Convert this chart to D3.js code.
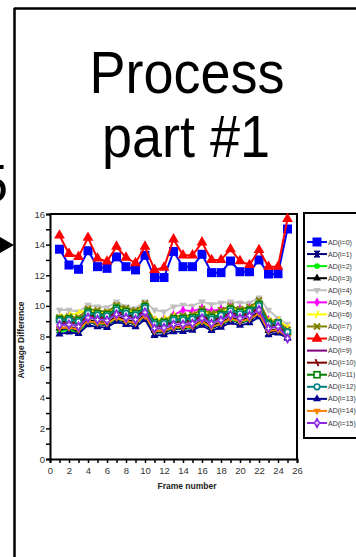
<!DOCTYPE html>
<html>
<head>
<meta charset="utf-8">
<script src="https://cdn.jsdelivr.net/npm/d3@7"></script>
<style>
  body { margin: 0; background: #fff; }
  svg { display: block; font-family: "Liberation Sans", Arial, sans-serif; }
</style>
</head>
<body>
<div id="chart"></div>
<script>
// Data
var frames = [1,2,3,4,5,6,7,8,9,10,11,12,13,14,15,16,17,18,19,20,21,22,23,24,25];
var yTicks = [0,2,4,6,8,10,12,14,16];
var xTicks = [0,2,4,6,8,10,12,14,16,18,20,22,24,26];

var ad0  = [13.7,12.67,12.39,13.6,12.56,12.45,13.2,12.56,12.35,13.3,11.85,11.85,13.55,12.56,12.56,13.37,12.17,12.17,12.93,12.23,12.23,13.0,12.08,12.1,15.02];
var ad1  = [8.42,8.50,8.33,8.95,8.78,8.74,9.12,8.93,8.80,9.27,8.22,8.28,8.47,8.49,8.55,8.88,8.52,8.77,9.08,8.90,9.05,9.46,8.25,8.36,7.95];
var ad2  = [8.35,8.40,8.25,8.98,8.85,8.80,9.18,8.97,8.86,9.30,8.30,8.35,8.55,8.52,8.60,8.92,8.60,8.82,9.12,8.95,9.10,9.55,8.40,8.45,8.05];
var ad3  = [8.55,8.62,8.48,9.08,8.95,8.90,9.30,9.08,8.95,9.42,8.40,8.42,8.62,8.64,8.70,9.03,8.70,8.92,9.24,9.05,9.22,9.60,8.38,8.48,7.92];
var ad4  = [9.73,9.73,9.62,10.06,9.95,9.9,10.27,9.95,9.84,10.27,9.73,9.62,9.95,10.06,10.0,10.27,10.1,10.2,10.27,10.2,10.2,10.54,9.73,9.19,8.8];
var ad5  = [9.20,9.25,9.10,9.62,9.50,9.45,9.82,9.62,9.52,9.90,9.05,9.10,9.40,9.72,9.65,9.85,9.68,9.78,9.92,9.80,9.88,10.20,9.10,9.00,8.45];
var ad6  = [9.30,9.40,9.55,9.75,9.62,9.55,9.95,9.72,9.60,10.05,9.10,9.15,9.35,9.30,9.40,9.70,9.45,9.62,9.90,9.70,9.85,10.25,9.05,9.10,8.60];
var ad7  = [9.25,9.30,9.25,9.80,9.70,9.60,10.05,9.85,9.70,10.15,9.00,9.05,9.30,9.35,9.40,9.80,9.50,9.72,9.98,9.78,9.92,10.35,9.00,8.95,8.45];
var ad8  = [14.6,13.4,13.2,14.45,13.1,12.9,13.87,13.15,12.8,13.87,12.35,12.5,14.35,13.3,13.3,14.15,13.0,13.0,13.7,12.93,12.67,13.65,12.56,12.56,15.68];
var ad9  = [8.85,8.90,8.78,9.35,9.22,9.15,9.55,9.35,9.22,9.68,8.65,8.68,8.90,8.92,8.98,9.30,8.98,9.18,9.50,9.30,9.46,9.82,8.65,8.75,8.10];
var ad10 = [8.95,9.00,8.88,9.45,9.30,9.25,9.65,9.45,9.32,9.78,8.75,8.78,9.00,9.02,9.08,9.40,9.08,9.28,9.60,9.40,9.56,9.92,8.75,8.82,8.20];
var ad11 = [9.12,9.15,9.05,9.60,9.48,9.42,9.85,9.62,9.48,9.95,8.90,8.92,9.15,9.18,9.22,9.58,9.25,9.45,9.78,9.58,9.72,10.10,8.85,8.88,8.25];
var ad12 = [9.05,9.08,8.98,9.52,9.40,9.35,9.75,9.52,9.40,9.88,8.82,8.85,9.08,9.10,9.15,9.50,9.15,9.38,9.68,9.48,9.65,10.02,8.80,8.90,8.30];
var ad13 = [8.15,8.28,8.18,8.75,8.62,8.58,8.98,8.78,8.62,9.10,8.05,8.10,8.30,8.32,8.40,8.72,8.38,8.60,8.92,8.72,8.88,9.28,8.10,8.22,7.90];
var ad14 = [8.55,8.58,8.45,9.02,8.88,8.85,9.22,9.00,8.88,9.35,8.35,8.38,8.58,8.60,8.65,8.98,8.62,8.85,9.18,8.98,9.15,9.50,8.35,8.42,7.95];
var ad15 = [8.75,8.78,8.65,9.23,9.10,9.05,9.45,9.23,9.10,9.58,8.53,8.56,8.78,8.78,8.84,9.19,8.84,9.06,9.40,9.19,9.36,9.73,8.53,8.65,7.88];

var seriesNames = ["AD(i=0)","AD(i=1)","AD(i=2)","AD(i=3)","AD(i=4)","AD(i=5)","AD(i=6)","AD(i=7)",
                   "AD(i=8)","AD(i=9)","AD(i=10)","AD(i=11)","AD(i=12)","AD(i=13)","AD(i=14)","AD(i=15)"];
var seriesValues = [ad0,ad1,ad2,ad3,ad4,ad5,ad6,ad7,ad8,ad9,ad10,ad11,ad12,ad13,ad14,ad15];

// styles
var colors = ["#0000ff","#000080","#00ee00","#000000","#c0c0c0","#ff00ff","#ffff00","#808000",
              "#ff0000","#800080","#800000","#008000","#008080","#000090","#ff8000","#8a2be2"];
var markers = ["square","hourglass","circle","triangle","down","diamond","slash","x",
               "triangle","none","backslash","opensquare","opencircle","triangle","down","diamondplus"];

var svgWidth = 356, svgHeight = 557;

var svg = d3.select("#chart")
  .append("svg")
  .attr("width", svgWidth)
  .attr("height", svgHeight);

// slide frame
svg.append("line").attr("x1", 14.5).attr("x2", 14.5).attr("y1", 8).attr("y2", svgHeight)
  .attr("stroke", "#000").attr("stroke-width", 2.5);
svg.append("line").attr("x1", 14).attr("x2", svgWidth).attr("y1", 8.5).attr("y2", 8.5)
  .attr("stroke", "#000").attr("stroke-width", 2.5);

svg.append("text").attr("x", 8).attr("y", 202).attr("text-anchor", "end")
  .attr("font-size", 54).text("5");
svg.append("path").attr("d", "M0,237L14,245L0,253Z").attr("fill", "#000");

// title (slightly stretched vertically like the slide)
svg.append("text").attr("transform", "translate(187,93) scale(1,1.1)").attr("text-anchor", "middle")
  .attr("font-size", 54).text("Process");
svg.append("text").attr("transform", "translate(186,157) scale(1,1.1)").attr("text-anchor", "middle")
  .attr("font-size", 54).text("part #1");

// scales
var x = d3.scaleLinear().domain([0, 26]).range([50, 297]);
var y = d3.scaleLinear().domain([0, 16]).range([459, 214]);

var chartGroup = svg.append("g");

// frame top/right
chartGroup.append("line").attr("x1", 50).attr("x2", 297).attr("y1", 214).attr("y2", 214)
  .attr("stroke", "#000").attr("stroke-width", 2);
chartGroup.append("line").attr("x1", 297).attr("x2", 297).attr("y1", 213).attr("y2", 459)
  .attr("stroke", "#000").attr("stroke-width", 2);

// axes
var yAxis = d3.axisLeft(y).tickValues(d3.range(0, 17)).tickSize(4)
  .tickFormat(d => yTicks.indexOf(d) >= 0 ? d : "");
var xAxis = d3.axisBottom(x).tickValues(d3.range(0, 27)).tickSize(4)
  .tickFormat(d => xTicks.indexOf(d) >= 0 ? d : "");

var gy = chartGroup.append("g").attr("transform", "translate(50,0)").call(yAxis);
var gx = chartGroup.append("g").attr("transform", "translate(0,459)").call(xAxis);

[gx, gy].forEach(function(g) {
  g.select(".domain").attr("stroke", "#000").attr("stroke-width", 2);
  g.selectAll(".tick line").attr("stroke", "#000").attr("stroke-width", 1.5);
  g.selectAll(".tick text").attr("fill", "#333").attr("font-size", 9.5)
    .attr("font-family", "'Liberation Sans', Arial, sans-serif");
});
gy.selectAll(".tick text").attr("x", -5);
gx.selectAll(".tick text").attr("y", 8);

chartGroup.append("text")
  .attr("transform", "translate(24,340) rotate(-90)")
  .attr("text-anchor", "middle")
  .attr("font-size", 8.5).attr("font-weight", "bold").attr("fill", "#222")
  .text("Average Difference");

chartGroup.append("text")
  .attr("x", 187).attr("y", 489)
  .attr("text-anchor", "middle")
  .attr("font-size", 8.5).attr("font-weight", "bold").attr("fill", "#222")
  .text("Frame number");

// marker drawing
function drawMarker(g, type, color, big) {
  var s = big ? 1.35 : 1;
  if (type === "square") {
    g.append("rect").attr("x", -4.5 * s / 1.35).attr("y", -4.5 * s / 1.35)
      .attr("width", 9 * s / 1.35).attr("height", 9 * s / 1.35).attr("fill", color);
  } else if (type === "triangle") {
    g.append("path").attr("d", d3.symbol(d3.symbolTriangle, 28 * s * s)()).attr("fill", color);
  } else if (type === "down") {
    g.append("path").attr("d", d3.symbol(d3.symbolTriangle, 24)()).attr("transform", "rotate(180)").attr("fill", color);
  } else if (type === "circle") {
    g.append("circle").attr("r", 2.8).attr("fill", color);
  } else if (type === "diamond") {
    g.append("path").attr("d", d3.symbol(d3.symbolDiamond, 26)()).attr("fill", color);
  } else if (type === "diamondplus") {
    g.append("path").attr("d", d3.symbol(d3.symbolDiamond, 40)()).attr("fill", color);
    g.append("path").attr("d", "M-1.8,0H1.8M0,-1.8V1.8").attr("stroke", "#fff").attr("stroke-width", 1);
  } else if (type === "hourglass") {
    g.append("path").attr("d", "M-3,-3L3,-3L-3,3L3,3Z").attr("fill", color).attr("stroke", color);
  } else if (type === "x") {
    g.append("path").attr("d", "M-3,-3L3,3M3,-3L-3,3").attr("stroke", color).attr("stroke-width", 2);
  } else if (type === "slash") {
    g.append("path").attr("d", "M-1.5,3.5L1.5,-3.5").attr("stroke", color).attr("stroke-width", 1.8);
  } else if (type === "backslash") {
    g.append("path").attr("d", "M-1.5,-3.5L1.5,3.5").attr("stroke", color).attr("stroke-width", 1.8);
  } else if (type === "opensquare") {
    g.append("rect").attr("x", -3).attr("y", -3).attr("width", 6).attr("height", 6)
      .attr("fill", "#fff").attr("stroke", color).attr("stroke-width", 1.6);
  } else if (type === "opencircle") {
    g.append("circle").attr("r", 2.8).attr("fill", "#fff").attr("stroke", color).attr("stroke-width", 1.6);
  }
}

var line = d3.line()
  .x((d, i) => x(frames[i]))
  .y(d => y(d));

var order = [1,2,3,4,5,6,7,9,10,11,12,13,14,15,0,8];
order.forEach(function(k) {
  var big = (k === 0 || k === 8);
  chartGroup.append("path")
    .datum(seriesValues[k])
    .attr("fill", "none")
    .attr("stroke", colors[k])
    .attr("stroke-width", big ? 2 : 1.8)
    .attr("d", line);

  chartGroup.selectAll(".m" + k)
    .data(seriesValues[k])
    .enter()
    .append("g")
    .attr("class", "m" + k)
    .attr("transform", (d, i) => `translate(${x(frames[i])},${y(d)})`)
    .each(function() { drawMarker(d3.select(this), markers[k], colors[k], big); });
});

// legend
var legend = svg.append("g");
legend.append("rect").attr("x", 304).attr("y", 213).attr("width", 70).attr("height", 225)
  .attr("fill", "#fff").attr("stroke", "#000").attr("stroke-width", 2);

var ly = d3.scaleLinear().domain([0, 15]).range([242, 423]);
seriesNames.forEach(function(name, k) {
  var row = legend.append("g").attr("transform", `translate(0,${ly(k)})`);
  row.append("line").attr("x1", 307).attr("x2", 327).attr("y1", 0).attr("y2", 0)
    .attr("stroke", colors[k]).attr("stroke-width", 2);
  var mg = row.append("g").attr("transform", "translate(317,0)");
  drawMarker(mg, markers[k], colors[k], k === 0 || k === 8);
  row.append("text").attr("x", 328).attr("y", 2.5).attr("font-size", 7)
    .attr("fill", "#333").text(name);
});
</script>
</body>
</html>
